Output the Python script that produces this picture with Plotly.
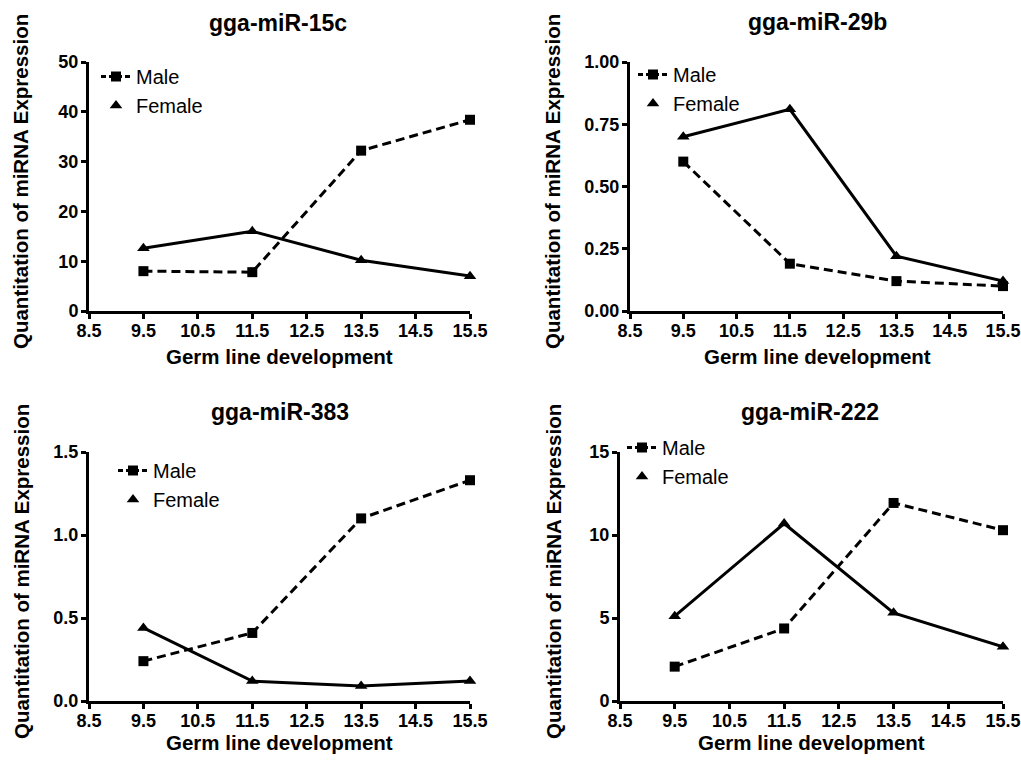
import plotly.graph_objects as go

# ---------------- data ----------------
stages = [9.5, 11.5, 13.5, 15.5]
x_ticks = [8.5, 9.5, 10.5, 11.5, 12.5, 13.5, 14.5, 15.5]
x_tick_labels = ["8.5", "9.5", "10.5", "11.5", "12.5", "13.5", "14.5", "15.5"]

titles = ["gga-miR-15c", "gga-miR-29b", "gga-miR-383", "gga-miR-222"]

mir15c_male = [8.0, 7.8, 32.2, 38.4]
mir15c_female = [12.6, 16.0, 10.2, 7.0]
mir29b_male = [0.60, 0.19, 0.12, 0.10]
mir29b_female = [0.70, 0.81, 0.22, 0.12]
mir383_male = [0.24, 0.41, 1.10, 1.33]
mir383_female = [0.44, 0.12, 0.09, 0.12]
mir222_male = [2.07, 4.37, 11.93, 10.29]
mir222_female = [5.11, 10.69, 5.31, 3.27]

y15c_ticks = [0, 10, 20, 30, 40, 50]
y15c_labels = ["0", "10", "20", "30", "40", "50"]
y29b_ticks = [0, 0.25, 0.5, 0.75, 1.0]
y29b_labels = ["0.00", "0.25", "0.50", "0.75", "1.00"]
y383_ticks = [0, 0.5, 1.0, 1.5]
y383_labels = ["0.0", "0.5", "1.0", "1.5"]
y222_ticks = [0, 5, 10, 15]
y222_labels = ["0", "5", "10", "15"]

x_title = "Germ line development"
y_title = "Quantitation of miRNA Expression"
series_names = ["Male", "Female"]

# ---------------- layout geometry ----------------
W, H = 1021, 760
FONT = "Arial, 'Liberation Sans', sans-serif"

def px_x(p):
    return p / W

def px_y(p):
    return 1 - p / H

panels = [
    dict(male=mir15c_male, female=mir15c_female, yt=y15c_ticks, yl=y15c_labels,
         yr=[0, 50], xd=[89, 470], yd=[311, 62], leg=(96, 57),
         title_pos=(278, 23), xt_pos=(279, 356), yt_pos=(21, 182)),
    dict(male=mir29b_male, female=mir29b_female, yt=y29b_ticks, yl=y29b_labels,
         yr=[0, 1.0], xd=[630, 1003], yd=[311, 62], leg=(633, 55),
         title_pos=(817, 22), xt_pos=(817, 356), yt_pos=(553, 182)),
    dict(male=mir383_male, female=mir383_female, yt=y383_ticks, yl=y383_labels,
         yr=[0, 1.5], xd=[89, 470], yd=[701, 452], leg=(113, 451),
         title_pos=(280, 412), xt_pos=(279, 742), yt_pos=(21, 572)),
    dict(male=mir222_male, female=mir222_female, yt=y222_ticks, yl=y222_labels,
         yr=[0, 15], xd=[620, 1003], yd=[701, 452], leg=(622, 428),
         title_pos=(810, 412), xt_pos=(811, 742), yt_pos=(553, 572)),
]

fig = go.Figure()
layout = dict(
    width=W, height=H,
    margin=dict(l=0, r=0, t=0, b=0, pad=0, autoexpand=False),
    paper_bgcolor="white", plot_bgcolor="white",
    font=dict(family=FONT, color="black"),
    showlegend=True,
)
annotations = []

for i, p in enumerate(panels):
    n = i + 1
    xa = "x" if n == 1 else f"x{n}"
    ya = "y" if n == 1 else f"y{n}"
    leg = "legend" if n == 1 else f"legend{n}"

    # data traces
    fig.add_trace(go.Scatter(
        x=stages, y=p["male"], xaxis=xa, yaxis=ya, mode="lines+markers",
        line=dict(color="black", width=3, dash="9px,5px"),
        marker=dict(symbol="square", size=10, color="black"),
        showlegend=False, cliponaxis=False, name=series_names[0]))
    fig.add_trace(go.Scatter(
        x=stages, y=p["female"], xaxis=xa, yaxis=ya, mode="lines+markers",
        line=dict(color="black", width=3),
        marker=dict(symbol="triangle-up", size=11, color="black"),
        showlegend=False, cliponaxis=False, name=series_names[1]))
    # legend entries
    fig.add_trace(go.Scatter(
        x=[None], y=[None], xaxis=xa, yaxis=ya, mode="lines+markers",
        line=dict(color="black", width=3, dash="5px,3px"),
        marker=dict(symbol="square", size=10, color="black"),
        name=series_names[0], legend=leg, legendgroup=f"m{n}"))
    fig.add_trace(go.Scatter(
        x=[None], y=[None], xaxis=xa, yaxis=ya, mode="markers",
        marker=dict(symbol="triangle-up", size=11, color="black"),
        name=series_names[1], legend=leg, legendgroup=f"f{n}"))

    axis_common = dict(
        showline=True, linecolor="black", linewidth=3,
        ticks="outside", ticklen=5, tickwidth=3, tickcolor="black",
        showgrid=False, zeroline=False, automargin=False,
        tickfont=dict(family=FONT, size=18, color="black", weight="bold"),
        fixedrange=True,
    )
    layout["xaxis" if n == 1 else f"xaxis{n}"] = dict(
        axis_common, domain=[px_x(p["xd"][0]), px_x(p["xd"][1])],
        range=[8.5, 15.5], tickmode="array", tickvals=x_ticks, ticktext=x_tick_labels,
        ticklabelstandoff=-4, anchor=ya)
    layout["yaxis" if n == 1 else f"yaxis{n}"] = dict(
        axis_common, domain=[px_y(p["yd"][0]), px_y(p["yd"][1])],
        range=p["yr"], tickmode="array", tickvals=p["yt"], ticktext=p["yl"],
        ticklabelstandoff=-1, anchor=xa)
    layout[leg] = dict(
        x=px_x(p["leg"][0]), y=px_y(p["leg"][1]), xanchor="left", yanchor="top",
        xref="paper", yref="paper",
        bgcolor="rgba(0,0,0,0)", borderwidth=0,
        font=dict(family=FONT, size=20, color="black"),
        tracegroupgap=0, itemclick=False, itemdoubleclick=False)

    annotations.append(dict(
        text=f"<b>{titles[i]}</b>", x=px_x(p["title_pos"][0]), y=px_y(p["title_pos"][1]),
        xref="paper", yref="paper", showarrow=False, xanchor="center", yanchor="middle",
        font=dict(family=FONT, size=23, color="black")))
    annotations.append(dict(
        text=f"<b>{x_title}</b>", x=px_x(p["xt_pos"][0]), y=px_y(p["xt_pos"][1]),
        xref="paper", yref="paper", showarrow=False, xanchor="center", yanchor="middle",
        font=dict(family=FONT, size=20.5, color="black")))
    annotations.append(dict(
        text=f"<b>{y_title}</b>", x=px_x(p["yt_pos"][0]), y=px_y(p["yt_pos"][1]),
        xref="paper", yref="paper", showarrow=False, xanchor="center", yanchor="middle",
        textangle=-90, font=dict(family=FONT, size=20.5, color="black")))

layout["annotations"] = annotations
fig.update_layout(**layout)
fig.write_html("out.html")
